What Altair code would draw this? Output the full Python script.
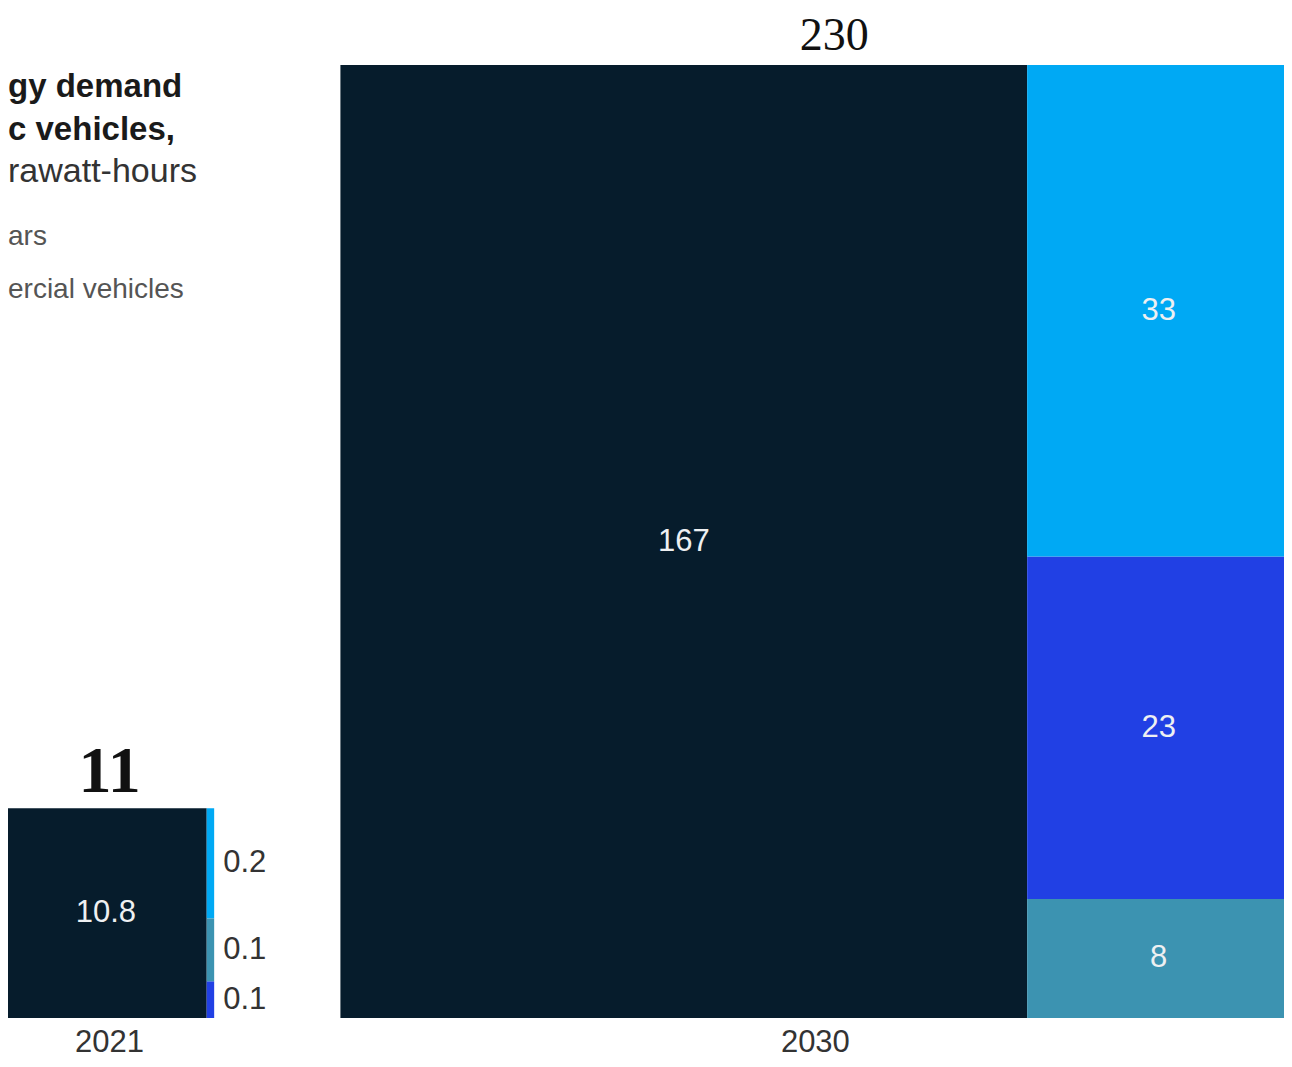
import altair as alt
import numpy as np
import pandas as pd

# ---------------- data ----------------
years = ["2021", "2030"]
total_labels = ["11", "230"]
segment_names = ["Passenger cars", "Light commercial vehicles",
                 "Medium and heavy commercial vehicles", "Buses"]
passenger_cars = [10.8, 167.0]
seg_light_blue = [0.21, 33.0]
seg_blue = [0.07, 23.0]
seg_teal = [0.12, 8.0]
segment_colors = ["#061C2C", "#00A9F4", "#2140E4", "#3C93B1"]

title_bold_lines = ["gy demand", "c vehicles,"]
subtitle_line = "rawatt-hours"
legend_lines = ["ars", "ercial vehicles"]

# ---------------- layout constants ----------------
W, H = 1276, 1051
PX_X, PX_Y = 62.5, 62.7        # pixels per sqrt(TWh) unit
BASE = 1010                     # chart pixel of the common baseline
GAP = 2.02                      # gap between the two squares (units)
OUT_PX = 40                     # narrower columns get labels outside
LABEL_SIZE = 31


def fmt(v):
    return f"{v:.1f}" if v < 1 else f"{v:g}"


rects, years_df = [], []
x0 = 0.0
for i, yr in enumerate(years):
    others = [(segment_names[1], seg_light_blue[i]),
              (segment_names[2], seg_blue[i]),
              (segment_names[3], seg_teal[i])]
    S = passenger_cars[i] + sum(v for _, v in others)
    side = float(np.sqrt(S))
    xc = x0 + side * passenger_cars[i] / S
    rects.append(dict(year=yr, seg=segment_names[0], x=x0, x2=xc, y=0.0, y2=side,
                      label=fmt(passenger_cars[i])))
    osum = sum(v for _, v in others)
    ycur = 0.0
    for name, v in sorted(others, key=lambda t: t[1]):
        h = side * v / osum
        rects.append(dict(year=yr, seg=name, x=xc, x2=x0 + side, y=ycur, y2=ycur + h,
                          label=fmt(v)))
        ycur += h
    years_df.append(dict(year=yr, total=total_labels[i], cx=x0 + side / 2, top=side, zero=0.0))
    x0 = x0 + side + GAP

df = pd.DataFrame(rects)
df["cx"] = (df["x"] + df["x2"]) / 2
df["cy"] = (df["y"] + df["y2"]) / 2
df["wpx"] = (df["x2"] - df["x"]) * PX_X
df_in = df[df["wpx"] >= OUT_PX]
df_out = df[df["wpx"] < OUT_PX]
ydf = pd.DataFrame(years_df)

xmin = 3 / PX_X
xs = alt.Scale(domain=[xmin, xmin + W / PX_X], nice=False, zero=False)
ymin = -(H - BASE) / PX_Y
ys = alt.Scale(domain=[ymin, ymin + H / PX_Y], nice=False, zero=False)

SANS = "Liberation Sans"
SERIF = "Liberation Serif"

bars = alt.Chart(df).mark_rect().encode(
    x=alt.X("x:Q", scale=xs, axis=None),
    x2="x2:Q",
    y=alt.Y("y:Q", scale=ys, axis=None),
    y2="y2:Q",
    color=alt.Color("seg:N", scale=alt.Scale(domain=segment_names, range=segment_colors),
                    legend=None),
)

lab_in = alt.Chart(df_in).mark_text(
    font=SANS, fontSize=LABEL_SIZE, color="#EEF0F2", align="center", baseline="middle"
).encode(
    x=alt.X("cx:Q", scale=xs, axis=None),
    y=alt.Y("cy:Q", scale=ys, axis=None),
    text="label:N",
)

lab_out = alt.Chart(df_out).mark_text(
    font=SANS, fontSize=LABEL_SIZE, color="#333333", align="left", baseline="middle", dx=9
).encode(
    x=alt.X("x2:Q", scale=xs, axis=None),
    y=alt.Y("cy:Q", scale=ys, axis=None),
    text="label:N",
)

year_lab = alt.Chart(ydf).mark_text(
    font=SANS, fontSize=LABEL_SIZE, color="#333333", align="center", baseline="alphabetic", dy=34
).encode(
    x=alt.X("cx:Q", scale=xs, axis=None),
    y=alt.Y("zero:Q", scale=ys, axis=None),
    text="year:N",
)

tot_small = alt.Chart(ydf).transform_filter(alt.datum.year == years[0]).mark_text(
    font=SERIF, fontSize=66, fontWeight="bold", color="#111111", align="center",
    baseline="alphabetic", dy=-16
).encode(
    x=alt.X("cx:Q", scale=xs, axis=None),
    y=alt.Y("top:Q", scale=ys, axis=None),
    text="total:N",
)

tot_big = alt.Chart(ydf).transform_filter(alt.datum.year == years[1]).mark_text(
    font=SERIF, fontSize=46, color="#111111", align="center",
    baseline="alphabetic", dy=-15, dx=19
).encode(
    x=alt.X("cx:Q", scale=xs, axis=None),
    y=alt.Y("top:Q", scale=ys, axis=None),
    text="total:N",
)

one = pd.DataFrame({"a": [0]})


def note(text, y, size, weight="normal", color="#222222"):
    return alt.Chart(one).mark_text(
        text=text, font=SANS, fontSize=size, fontWeight=weight, color=color,
        align="left", baseline="alphabetic"
    ).encode(x=alt.value(0), y=alt.value(y))


annotations = [
    note(title_bold_lines[0], 89, 33, "bold", "#1A1A1A"),
    note(title_bold_lines[1], 132, 33, "bold", "#1A1A1A"),
    note(subtitle_line, 174, 34, "normal", "#333333"),
    note(legend_lines[0], 237, 28, "normal", "#555555"),
    note(legend_lines[1], 290, 28, "normal", "#555555"),
]

chart = alt.layer(bars, lab_in, lab_out, year_lab, tot_small, tot_big, *annotations).properties(
    width=W, height=H, autosize=alt.AutoSizeParams(type="none"), padding=0
).configure_view(stroke=None)

chart.save("out.html", embed_options={"renderer": "svg", "actions": False})
